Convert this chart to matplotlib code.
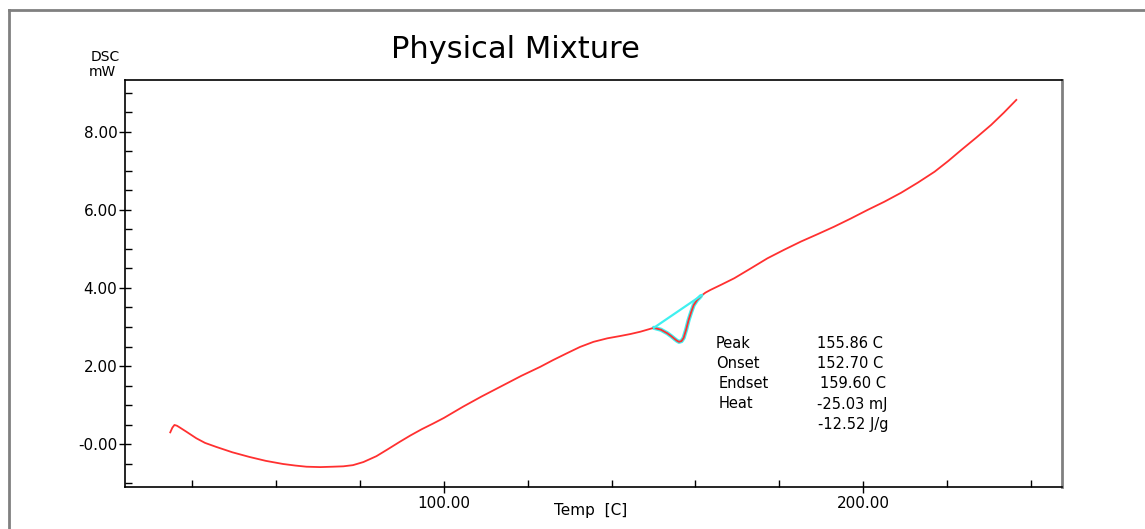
import matplotlib.pyplot as plt
from matplotlib.lines import Line2D
from matplotlib.ticker import MultipleLocator, FixedLocator, FixedFormatter

plt.rcParams["font.family"] = ["DejaVu Sans"]

# DSC trace
temp = [34.7, 35.2, 35.7, 36.3, 36.9, 38.5, 40.9, 43.0, 45.6, 49.5, 53.6, 57.5,
        61.6, 64.5, 67.2, 70.5, 73.5, 76.0, 78.3, 80.8, 83.9, 86.5, 89.5, 92.0,
        94.7, 97.5, 100.0, 104.6, 109.0, 114.2, 118.5, 123.0, 126.0, 129.4, 132.5,
        135.7, 139.0, 142.1, 144.5, 146.9, 148.5, 150.1, 151.8, 153.3, 154.2, 155.0,
        155.6, 156.1, 156.7, 157.2, 157.8, 158.4, 159.0, 159.6, 160.4, 161.3, 162.4,
        163.6, 166.3, 169.3, 173.2, 177.2, 181.2, 185.2, 189.2, 193.1, 197.1, 201.1,
        205.1, 209.1, 213.1, 217.1, 220.3, 223.5, 227.0, 230.6, 233.6, 236.6]
dsc = [0.30, 0.42, 0.49, 0.47, 0.43, 0.32, 0.15, 0.03, -0.07, -0.21, -0.33, -0.43,
       -0.51, -0.55, -0.58, -0.59, -0.58, -0.57, -0.54, -0.46, -0.31, -0.14, 0.06, 0.22,
       0.38, 0.53, 0.67, 0.96, 1.22, 1.51, 1.75, 1.98, 2.15, 2.33, 2.49,
       2.62, 2.71, 2.77, 2.82, 2.88, 2.93, 2.98, 2.93, 2.84, 2.77, 2.70,
       2.65, 2.62, 2.64, 2.72, 2.93, 3.18, 3.38, 3.56, 3.69, 3.79, 3.88,
       3.95, 4.09, 4.25, 4.50, 4.76, 4.98, 5.19, 5.38, 5.57, 5.78, 6.00,
       6.21, 6.44, 6.70, 6.98, 7.25, 7.54, 7.85, 8.18, 8.49, 8.82]

# peak analysis: baseline between onset/endset region
base_t = [150.1, 161.6]
base_y = [2.98, 3.82]
peak_lo, peak_hi = 41, 55   # index range of the melting dip

x_ticks = [100, 200]
x_labels = ["100.00", "200.00"]
y_ticks = [0, 2, 4, 6, 8]
y_labels = ["-0.00", "2.00", "4.00", "6.00", "8.00"]

ann_names = ["Peak", "Onset", "Endset", "Heat", ""]
ann_values = ["155.86 C", "152.70 C", "159.60 C", "-25.03 mJ", "-12.52 J/g"]

W, H = 1145, 529
fig = plt.figure(figsize=(W / 100, H / 100), dpi=100)
ax = fig.add_axes([125 / W, 1 - 487 / H, (1062 - 125) / W, (487 - 80) / H])

ax.plot(temp[peak_lo:peak_hi + 1], dsc[peak_lo:peak_hi + 1], color="#40f0f0", lw=3.0,
        solid_capstyle="round")
ax.plot(temp, dsc, color="#ff3030", lw=1.3)
ax.plot(base_t, base_y, color="#40f0f0", lw=1.6)

ax.set_xlim(23.9, 247.5)
ax.set_ylim(-1.10, 9.33)

ax.xaxis.set_major_locator(FixedLocator(x_ticks))
ax.xaxis.set_major_formatter(FixedFormatter(x_labels))
ax.xaxis.set_minor_locator(MultipleLocator(20))
ax.yaxis.set_major_locator(FixedLocator(y_ticks))
ax.yaxis.set_major_formatter(FixedFormatter(y_labels))
ax.yaxis.set_minor_locator(MultipleLocator(0.5))

ax.tick_params(which="major", direction="inout", length=9, width=1, labelsize=11, pad=1)
ax.tick_params(which="minor", direction="in", length=5, width=1)
ax.tick_params(axis="x", pad=2)

for s in ["left", "bottom", "top"]:
    ax.spines[s].set_linewidth(1.2)
    ax.spines[s].set_color("black")
ax.spines["right"].set_color("#808080")
ax.spines["right"].set_linewidth(2)

def fx(px):
    return px / W

def fy(py):
    return 1 - py / H

fig.text(fx(515), fy(50), "Physical Mixture", fontsize=22, ha="center", va="center")
fig.text(fx(105), fy(57), "DSC", fontsize=10, ha="center", va="center")
fig.text(fx(102), fy(72), "mW", fontsize=10, ha="center", va="center")
fig.text(fx(591), fy(511), "Temp  [C]", fontsize=11, ha="center", va="center")

name_x = [716, 716, 719, 719, 719]
val_x = [817, 817, 820, 817, 818]
row_y = [343, 363, 383, 404, 424]
for nm, val, nx, vx, ry in zip(ann_names, ann_values, name_x, val_x, row_y):
    if nm:
        fig.text(fx(nx), fy(ry), nm, fontsize=10.5, ha="left", va="center")
    fig.text(fx(vx), fy(ry), val, fontsize=10.5, ha="left", va="center")

# outer frame (top and left edges only)
fig.add_artist(Line2D([fx(9), 1], [fy(10), fy(10)], color="#808080", lw=2))
fig.add_artist(Line2D([fx(9), fx(9)], [fy(10), 0], color="#808080", lw=2))

fig.savefig("out.png", dpi=100)
